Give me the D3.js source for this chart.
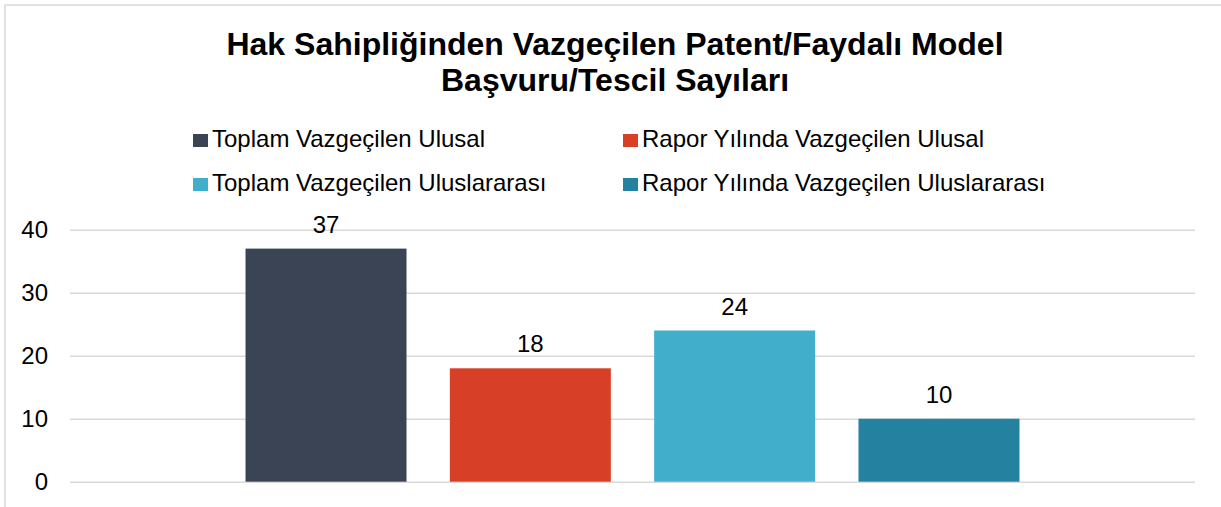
<!DOCTYPE html>
<html>
<head>
<meta charset="utf-8">
<script src="https://cdn.jsdelivr.net/npm/d3@7"></script>
<style>
  body { margin: 0; background: #fff; }
  svg { display: block; font-family: "Liberation Sans", Arial, sans-serif; }
</style>
</head>
<body>
<div id="chart"></div>
<script>
// data
var series = ["Toplam Vazgeçilen Ulusal", "Rapor Yılında Vazgeçilen Ulusal",
              "Toplam Vazgeçilen Uluslararası", "Rapor Yılında Vazgeçilen Uluslararası"]
var values = [37, 18, 24, 10]
var colors = ["#3b4455", "#d83f27", "#41aecb", "#2481a0"]
var yTicks = [0, 10, 20, 30, 40]
var titleLines = ["Hak Sahipliğinden Vazgeçilen Patent/Faydalı Model", "Başvuru/Tescil Sayıları"]

var W = 1221, H = 507

var svg = d3.select("#chart")
  .append("svg")
    .attr("width", W)
    .attr("height", H)

// outer chart border (right/bottom fall outside the view)
svg.append("rect")
  .attr("x", 5).attr("y", 5)
  .attr("width", 1240).attr("height", 520)
  .attr("fill", "#fff")
  .attr("stroke", "#d9d9d9")
  .attr("stroke-width", 1.5)

// title
svg.append("g").selectAll("text")
  .data(titleLines)
  .join("text")
    .attr("x", 615)
    .attr("y", (d, i) => 55 + i * 36)
    .attr("text-anchor", "middle")
    .attr("font-size", 32)
    .attr("font-weight", "bold")
    .attr("fill", "#000")
    .text(d => d)

// legend
var legX = [193, 623], legY = [147, 191]
var leg = svg.append("g").selectAll("g")
  .data(series)
  .join("g")
    .attr("transform", (d, i) => "translate(" + legX[i % 2] + "," + legY[Math.floor(i / 2)] + ")")
leg.append("rect")
  .attr("x", 0).attr("y", -13)
  .attr("width", 15).attr("height", 13)
  .attr("fill", (d, i) => colors[i])
leg.append("text")
  .attr("x", 19)
  .attr("y", 0)
  .attr("font-size", 24)
  .attr("fill", "#000")
  .text(d => d)

// scales
var y = d3.scaleLinear()
  .domain([0, 40])
  .range([481.7, 229.7])

var x = d3.scaleBand()
  .domain(series)
  .range([70, 1195])
  .paddingInner(0.212)
  .paddingOuter(0.859)

// gridlines + y labels
var yAxis = svg.append("g")
  .attr("transform", "translate(70,0)")
  .call(d3.axisLeft(y).tickValues(yTicks).tickSize(-1125).tickPadding(22))
yAxis.select(".domain").remove()
yAxis.selectAll(".tick line")
  .attr("stroke", "#d9d9d9")
  .attr("stroke-width", 1.5)
yAxis.selectAll(".tick text")
  .attr("font-size", 24)
  .attr("font-family", "Liberation Sans, Arial, sans-serif")
  .attr("fill", "#000")

// bars
svg.append("g").selectAll("rect")
  .data(values)
  .join("rect")
    .attr("x", (d, i) => x(series[i]))
    .attr("y", d => y(d))
    .attr("width", x.bandwidth())
    .attr("height", d => y(0) - y(d))
    .attr("fill", (d, i) => colors[i])

// value labels
svg.append("g").selectAll("text")
  .data(values)
  .join("text")
    .attr("x", (d, i) => x(series[i]) + x.bandwidth() / 2)
    .attr("y", d => y(d) - 16)
    .attr("text-anchor", "middle")
    .attr("font-size", 24)
    .attr("fill", "#000")
    .text(d => d)
</script>
</body>
</html>
